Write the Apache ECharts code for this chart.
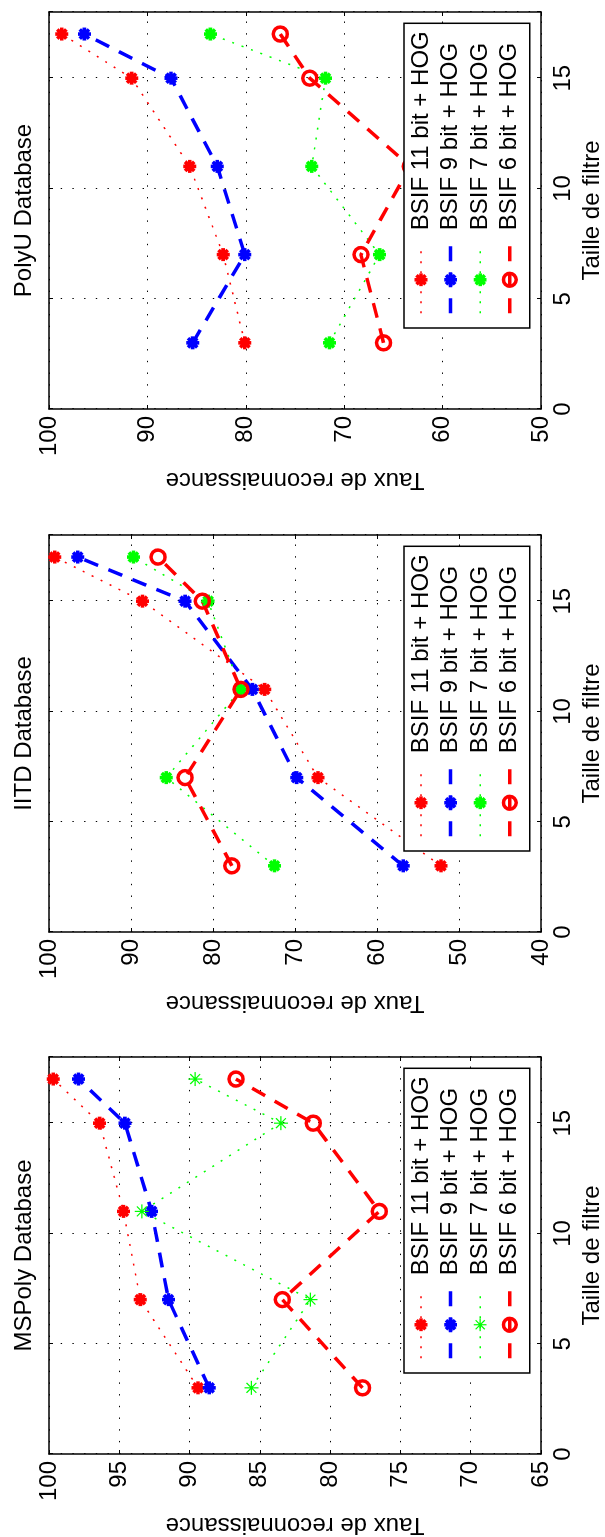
<!DOCTYPE html>
<html>
<head>
<meta charset="utf-8">
<script src="https://cdn.jsdelivr.net/npm/echarts@6/dist/echarts.min.js"></script>
<style>
  html, body { margin: 0; padding: 0; background: #fff; overflow: hidden; }
  #page { position: absolute; left: 0; top: 0; width: 605px; height: 1537px; overflow: hidden; background: #fff; }
  /* the figure is laid out landscape and turned a quarter turn counter-clockwise */
  #chart { position: absolute; left: 0; top: 0; width: 1537px; height: 605px;
           transform-origin: 0 0; transform: translateY(1537px) rotate(-90deg); }
</style>
</head>
<body>
<div id="page"><div id="chart"></div></div>
<script>
// ---- data -------------------------------------------------------------
const filterSizes = [3, 7, 11, 15, 17];
const methodNames = ['BSIF 11 bit + HOG', 'BSIF 9 bit + HOG', 'BSIF 7 bit + HOG', 'BSIF 6 bit + HOG'];
const databaseTitles = ['MSPoly Database', 'IITD Database', 'PolyU Database'];

const msPoly11 = [89.4, 93.5, 94.7, 96.4, 99.7];
const msPoly9  = [88.6, 91.5, 92.7, 94.6, 97.9];
const msPoly7  = [85.6, 81.4, 93.4, 83.5, 89.6];
const msPoly6  = [77.7, 83.4, 76.5, 81.2, 86.7];

const iitd11 = [52.2, 67.2, 73.7, 88.6, 99.3];
const iitd9  = [56.8, 69.8, 75.2, 83.4, 96.5];
const iitd7  = [72.5, 85.7, 76.6, 80.6, 89.7];
const iitd6  = [77.7, 83.4, 76.6, 81.3, 86.7];

const polyU11 = [80.1, 82.3, 85.7, 91.6, 98.7];
const polyU9  = [85.4, 80.1, 82.9, 87.6, 96.4];
const polyU7  = [71.5, 66.4, 73.3, 71.9, 83.6];
const polyU6  = [66.0, 68.3, 63.3, 73.5, 76.5];

const rateAxisMin  = [65, 40, 50];
const rateAxisMax  = [100, 100, 100];
const rateAxisStep = [5, 10, 10];
const sizeAxisMin = 0, sizeAxisMax = 18, sizeAxisStep = 5;

const panelValues = [
  [msPoly11, msPoly9, msPoly7, msPoly6],
  [iitd11, iitd9, iitd7, iitd6],
  [polyU11, polyU9, polyU7, polyU6]
];

// ---- layout & styles --------------------------------------------------
const FONT = '"Liberation Sans", Arial, Helvetica, sans-serif';
const FS = 24;
const plotLeft = [83, 605, 1128];
const plotTop = 49, plotW = 397, plotH = 492;

const STAR = 'path://M0,-1L0,1M-1,0L1,0M-0.7071,-0.7071L0.7071,0.7071M-0.7071,0.7071L0.7071,-0.7071';
const DOTTED = [2, 8];
const DASHED = [15, 11];

// one entry per method: colour, line and marker look
const methodStyles = [
  { color: '#ff0000', width: 1.5, dash: DOTTED, symbol: STAR, size: 13, border: 3.6, fill: '#ff0000' },
  { color: '#0000ff', width: 3.5, dash: DASHED, symbol: STAR, size: 13, border: 3.6, fill: '#0000ff' },
  { color: '#00ff00', width: 1.5, dash: DOTTED, symbol: STAR, size: 13, border: 3.6, fill: '#00ff00' },
  { color: '#ff0000', width: 3.5, dash: DASHED, symbol: 'circle', size: 14, border: 3.5, fill: 'rgba(0,0,0,0)' }
];
// the MSPoly panel uses a plain (thin) asterisk for the 7-bit curve
function styleFor(panel, k) {
  const s = Object.assign({}, methodStyles[k]);
  if (panel === 0 && k === 2) { s.size = 14; s.border = 1.2; }
  return s;
}

const gridLine = { color: '#000', width: 1, type: [1.4, 10.3] };
const axisLineStyle = { color: '#000', width: 1.5 };

const grids = [], xAxes = [], yAxes = [], series = [], legends = [], graphics = [];

databaseTitles.forEach((title, i) => {
  grids.push({ left: plotLeft[i], top: plotTop, width: plotW, height: plotH,
               containLabel: false, outerBoundsMode: 'none' });

  const commonX = { type: 'value', gridIndex: i, min: sizeAxisMin, max: sizeAxisMax, interval: sizeAxisStep,
    axisLine: { show: true, onZero: false, lineStyle: axisLineStyle },
    axisTick: { show: true, inside: true, length: 4, lineStyle: { color: '#000', width: 1 } } };
  xAxes.push(Object.assign({}, commonX, {
    position: 'bottom',
    axisLabel: { margin: 10, fontSize: FS, fontFamily: FONT, color: '#000',
                 formatter: v => (v % sizeAxisStep === 0 ? String(v) : '') },
    splitLine: { show: true, lineStyle: gridLine },
    name: 'Taille de filtre', nameLocation: 'middle', nameGap: 38,
    nameTextStyle: { fontSize: FS, fontFamily: FONT, color: '#000' }
  }));
  xAxes.push(Object.assign({}, commonX, {
    position: 'top', axisLabel: { show: false }, splitLine: { show: false }
  }));

  const commonY = { type: 'value', gridIndex: i, min: rateAxisMin[i], max: rateAxisMax[i], interval: rateAxisStep[i],
    axisLine: { show: true, onZero: false, lineStyle: axisLineStyle },
    axisTick: { show: true, inside: true, length: 4, lineStyle: { color: '#000', width: 1 } } };
  yAxes.push(Object.assign({}, commonY, {
    position: 'left',
    axisLabel: { margin: 7, fontSize: FS, fontFamily: FONT, color: '#000' },
    splitLine: { show: true, lineStyle: gridLine },
    name: 'Taux de reconnaissance', nameLocation: 'middle', nameRotate: 90, nameGap: 59,
    nameTextStyle: { fontSize: FS, fontFamily: FONT, color: '#000' }
  }));
  yAxes.push(Object.assign({}, commonY, {
    position: 'right', axisLabel: { show: false }, splitLine: { show: false }
  }));

  const legendItems = [];
  methodNames.forEach((m, k) => {
    const s = styleFor(i, k);
    const key = m + '#' + i;
    series.push({
      type: 'line', name: key, xAxisIndex: 2 * i, yAxisIndex: 2 * i,
      data: filterSizes.map((x, j) => [x, panelValues[i][k][j]]),
      symbol: s.symbol, symbolSize: s.size, showSymbol: true, showAllSymbol: true,
      lineStyle: { color: s.color, width: s.width, type: s.dash, cap: 'butt' },
      itemStyle: { color: s.fill, borderColor: s.color, borderWidth: s.border },
      emphasis: { disabled: true }, silent: true, animation: false, clip: false
    });
    legendItems.push({
      name: key,
      itemStyle: { color: s.fill, borderColor: s.color, borderWidth: s.border },
      lineStyle: { color: s.color, width: s.width, type: s.dash }
    });
  });

  legends.push({
    data: legendItems, orient: 'vertical', left: plotLeft[i] + 81, top: 404,
    itemWidth: 67, itemHeight: 16, itemGap: 5.6, padding: [5, 8, 8, 13],
    backgroundColor: '#fff', borderColor: '#000', borderWidth: 1.5, borderRadius: 0,
    selectedMode: false,
    formatter: name => name.split('#')[0],
    textStyle: { fontSize: FS, fontFamily: FONT, color: '#000', lineHeight: 24, padding: [0, 0, 0, 11] }
  });

  graphics.push({
    type: 'text', x: plotLeft[i] + plotW / 2, y: 24.7, silent: true,
    style: { text: title, fontSize: FS, fontFamily: FONT, fill: '#000', align: 'center', verticalAlign: 'middle' }
  });
});

const chart = echarts.init(document.getElementById('chart'), null, { renderer: 'canvas', width: 1537, height: 605 });
chart.setOption({
  animation: false,
  backgroundColor: '#fff',
  grid: grids, xAxis: xAxes, yAxis: yAxes,
  series: series, legend: legends, graphic: graphics
});
</script>
</body>
</html>
